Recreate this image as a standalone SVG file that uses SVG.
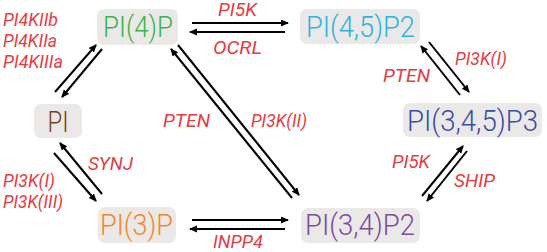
<svg xmlns="http://www.w3.org/2000/svg" width="547" height="252" viewBox="0 0 547 252">
<defs>
<style>
.box{fill:#ebe9e8}
.nt{font-family:Roboto,"Liberation Sans",Arial,sans-serif;font-size:29px;text-anchor:middle;font-weight:300}
.lb{font-family:Roboto,"Liberation Sans",Arial,sans-serif;font-size:18px;font-style:italic;font-weight:400;fill:#e63b40}
.ar{stroke:#000;stroke-width:2;fill:none;marker-end:url(#ah)}
</style>
<marker id="ah" markerUnits="userSpaceOnUse" markerWidth="9" markerHeight="8" refX="7" refY="3.5" orient="auto">
<path d="M0,0 L8,3.5 L0,7 z" fill="#000"/>
</marker>
</defs>
<rect width="547" height="252" fill="#fff"/>
<g id="n-pi4p"><rect class="box" x="97" y="9" width="81" height="36" rx="7"/><text class="nt" x="138" y="37" fill="#3cb44a" textLength="70" lengthAdjust="spacingAndGlyphs">PI(4)P</text></g>
<g id="n-pi45p2"><rect class="box" x="300" y="9" width="120" height="35" rx="7"/><text class="nt" x="360.5" y="37" fill="#2bb4e4" textLength="109" lengthAdjust="spacingAndGlyphs">PI(4,5)P2</text></g>
<g id="n-pi"><rect class="box" x="34" y="104" width="48" height="34" rx="7"/><text class="nt" x="58" y="132" fill="#7b3c22" textLength="21" lengthAdjust="spacingAndGlyphs">PI</text></g>
<g id="n-pi345p3"><rect class="box" x="403" y="103" width="139" height="34" rx="7"/><text class="nt" x="472.5" y="131" fill="#3a4ea5" textLength="131" lengthAdjust="spacingAndGlyphs">PI(3,4,5)P3</text></g>
<g id="n-pi3p"><rect class="box" x="98" y="207" width="78" height="36" rx="7"/><text class="nt" x="136.5" y="235" fill="#f5872b" textLength="73" lengthAdjust="spacingAndGlyphs">PI(3)P</text></g>
<g id="n-pi34p2"><rect class="box" x="301" y="208" width="119" height="35" rx="7"/><text class="nt" x="360" y="235" fill="#7d4b9f" textLength="110" lengthAdjust="spacingAndGlyphs">PI(3,4)P2</text></g>
<g id="connectors">
<line class="ar" x1="192" y1="23" x2="288" y2="23"/>
<line class="ar" x1="285" y1="32" x2="190" y2="32"/>
<line class="ar" x1="55" y1="92" x2="96" y2="45"/>
<line class="ar" x1="102" y1="49" x2="62" y2="97"/>
<line class="ar" x1="54" y1="153" x2="96" y2="201"/>
<line class="ar" x1="102" y1="194" x2="60" y2="143"/>
<line class="ar" x1="192" y1="220" x2="288" y2="220"/>
<line class="ar" x1="285" y1="229" x2="190" y2="229"/>
<line class="ar" x1="292" y1="198" x2="171" y2="49"/>
<line class="ar" x1="178" y1="45" x2="299" y2="195"/>
<line class="ar" x1="460" y1="95" x2="421" y2="46"/>
<line class="ar" x1="429" y1="42" x2="469" y2="92"/>
<line class="ar" x1="422" y1="196" x2="463" y2="146"/>
<line class="ar" x1="467" y1="151" x2="427" y2="201"/>
</g>
<g id="labels">
<text class="lb" x="218" y="16" textLength="39" lengthAdjust="spacingAndGlyphs">PI5K</text>
<text class="lb" x="213" y="54" textLength="49" lengthAdjust="spacingAndGlyphs">OCRL</text>
<text class="lb" x="3" y="26" textLength="55" lengthAdjust="spacingAndGlyphs">PI4KIIb</text>
<text class="lb" x="3" y="47" textLength="54" lengthAdjust="spacingAndGlyphs">PI4KIIa</text>
<text class="lb" x="3" y="68" textLength="60" lengthAdjust="spacingAndGlyphs">PI4KIIIa</text>
<text class="lb" x="88" y="170" textLength="45" lengthAdjust="spacingAndGlyphs">SYNJ</text>
<text class="lb" x="3" y="187" textLength="52" lengthAdjust="spacingAndGlyphs">PI3K(I)</text>
<text class="lb" x="3" y="208" textLength="60" lengthAdjust="spacingAndGlyphs">PI3K(III)</text>
<text class="lb" x="213" y="248" textLength="50" lengthAdjust="spacingAndGlyphs">INPP4</text>
<text class="lb" x="163" y="127" textLength="47" lengthAdjust="spacingAndGlyphs">PTEN</text>
<text class="lb" x="251" y="127" textLength="56" lengthAdjust="spacingAndGlyphs">PI3K(II)</text>
<text class="lb" x="383" y="82" textLength="47" lengthAdjust="spacingAndGlyphs">PTEN</text>
<text class="lb" x="455" y="65" textLength="52" lengthAdjust="spacingAndGlyphs">PI3K(I)</text>
<text class="lb" x="392" y="168" textLength="38" lengthAdjust="spacingAndGlyphs">PI5K</text>
<text class="lb" x="454" y="187" textLength="41" lengthAdjust="spacingAndGlyphs">SHIP</text>
</g>
</svg>
